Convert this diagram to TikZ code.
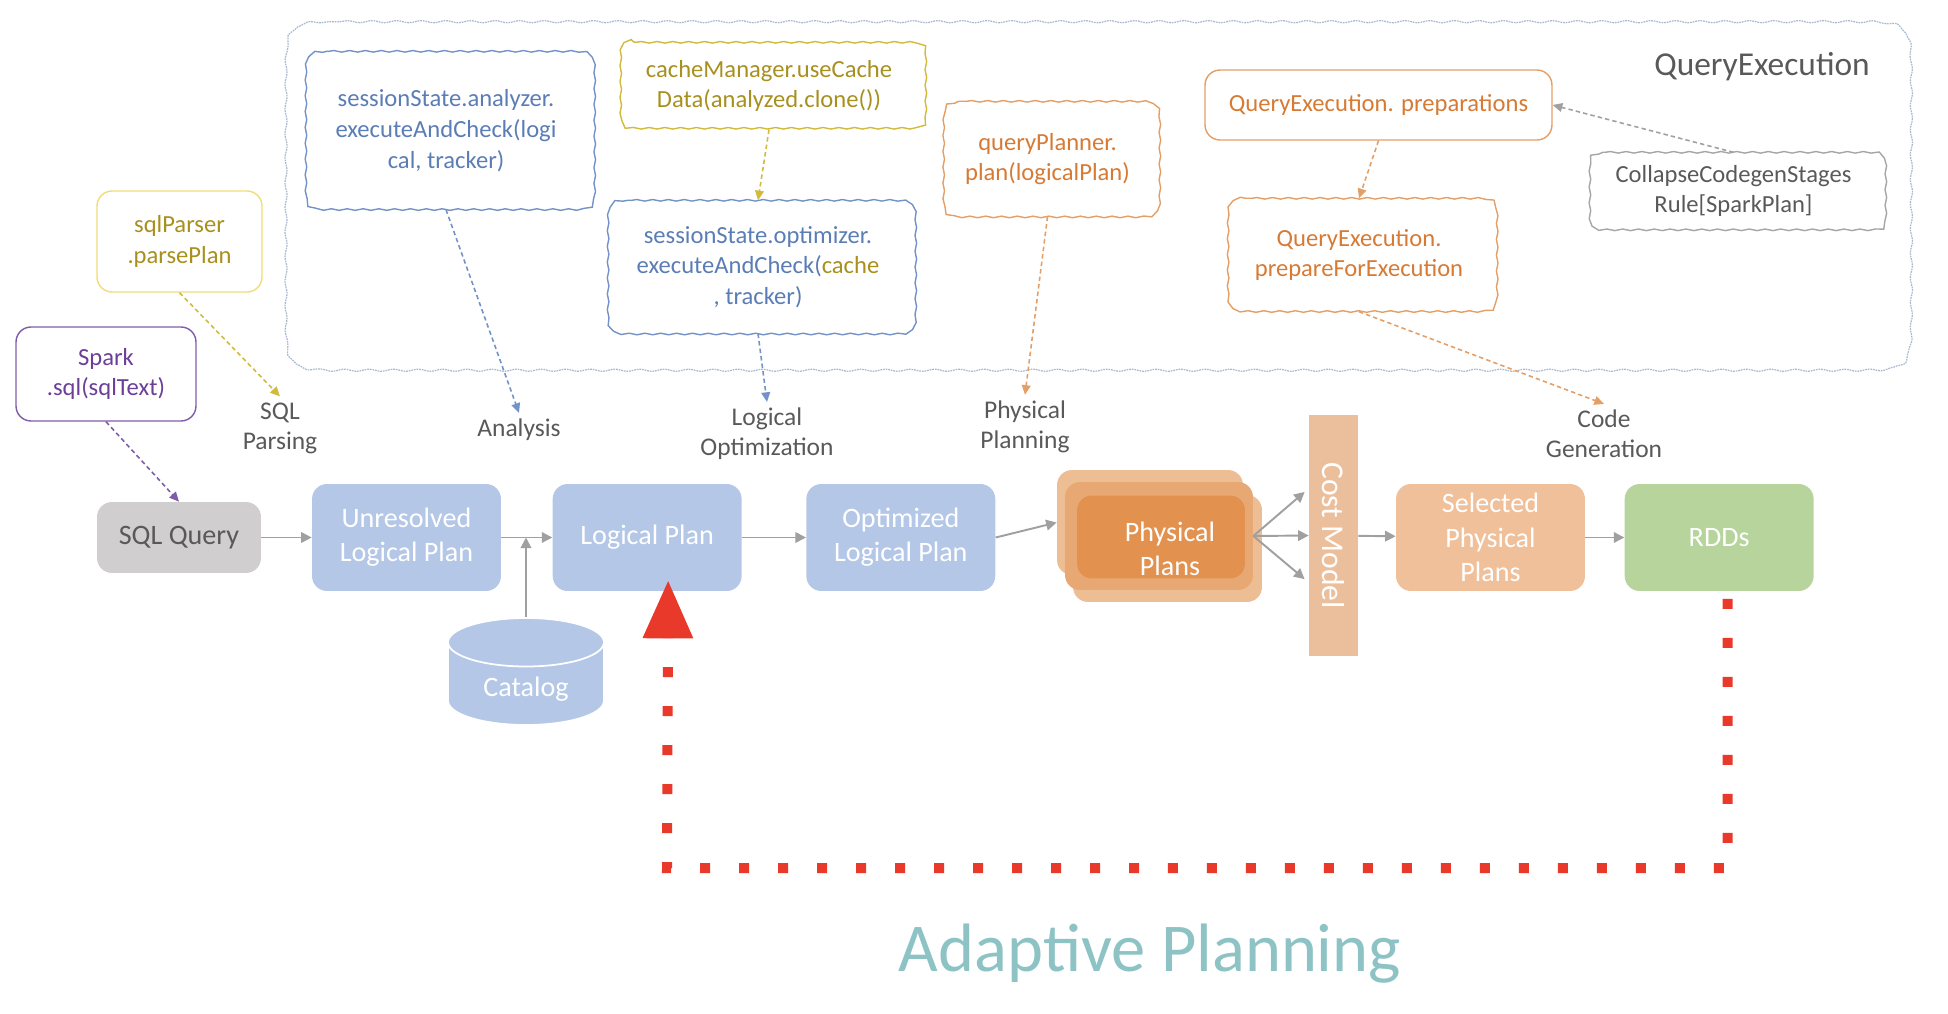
\documentclass[tikz,border=0pt]{standalone}
\usepackage{fontspec}
\setmainfont{Carlito}
\usepackage{tikz}
\usetikzlibrary{shapes.geometric, arrows, arrows.meta, decorations.pathmorphing}
\usetikzlibrary{positioning}

\definecolor{planblue}{HTML}{B4C7E7}
\definecolor{querygray}{HTML}{D0CECE}
\definecolor{textgray}{HTML}{595959}
\definecolor{flowgray}{HTML}{A0A0A0}
\definecolor{peach}{HTML}{EDBD94}
\definecolor{peachmid}{HTML}{E8A874}
\definecolor{darkorange}{HTML}{E3914F}
\definecolor{costpeach}{HTML}{ECBF9C}
\definecolor{selpeach}{HTML}{F0C09A}
\definecolor{rddgreen}{HTML}{B6D49C}
\definecolor{bluetext}{HTML}{5B7DB5}
\definecolor{blueline}{HTML}{7393C8}
\definecolor{olivetext}{HTML}{A8901E}
\definecolor{oliveline}{HTML}{D2BA3A}
\definecolor{yellowline}{HTML}{F0DD78}
\definecolor{orangetext}{HTML}{D67A34}
\definecolor{orangeline}{HTML}{E39F66}
\definecolor{purpletext}{HTML}{6B3F98}
\definecolor{purpleline}{HTML}{7F5CA9}
\definecolor{rulegray}{HTML}{A6A6A6}
\definecolor{boxline}{HTML}{A9B9CF}
\definecolor{adaptteal}{HTML}{8DC3C5}
\definecolor{loopred}{HTML}{E8392A}

\tikzstyle{arrow} = [line width=1.1pt, -{Triangle[length=6pt, width=6pt]}, flowgray]
\tikzstyle{hint} = [line width=0.9pt, -{Triangle[length=5.5pt, width=5pt]}, dash pattern=on 2.5pt off 1.8pt]
\tikzstyle{feedback} = [line width=0.2cm, loopred, dash pattern=on 0.2cm off 0.58cm, -{Triangle[length=1.16cm, width=0.96cm]}]
\tikzstyle{plan} = [rectangle, rounded corners=0.3cm, fill=planblue, text=white, minimum width=3.78cm, minimum height=2.14cm, align=center, font=\fontsize{16}{19.5}\selectfont]
\tikzstyle{card} = [rectangle, rounded corners=0.3cm, align=center, font=\fontsize{16}{19.5}\selectfont]
\tikzstyle{method} = [rectangle, rounded corners=0.3cm, line width=0.8pt, align=center, font=\fontsize{14}{17.5}\selectfont]
\tikzstyle{wavy} = [line width=0.8pt, decorate, decoration={snake, amplitude=0.45pt, segment length=9pt}]
\tikzstyle{stage} = [align=center, text=textgray, font=\fontsize{14.5}{17}\selectfont]

% hand-drawn frame round a node: node, colour, corner size
\newcommand{\wavyframe}[3]{\draw [wavy, #2] ([xshift=#3]#1.north west) -- ([xshift=-#3]#1.north east) .. controls (#1.north east) .. ([yshift=-#3]#1.north east) -- ([yshift=#3]#1.south east) .. controls (#1.south east) .. ([xshift=-#3]#1.south east) -- ([xshift=#3]#1.south west) .. controls (#1.south west) .. ([yshift=#3]#1.south west) -- ([yshift=-#3]#1.north west) .. controls (#1.north west) .. ([xshift=#3]#1.north west);}

\begin{document}
\begin{tikzpicture}[x=0.02cm, y=-0.02cm]
\useasboundingbox (0,0) rectangle (1948,1014);

    % QueryExecution container
    \node (QEBOX) at (1092.5,196) [minimum width=32.5cm, minimum height=6.96cm] {};
    \wavyframe{QEBOX}{boxline, line width=0.7pt, dash pattern=on 1pt off 0.5pt, decoration={segment length=14pt, amplitude=0.6pt}}{1.2cm}
    \node (QE) at (1762,67) [text=textgray, font=\fontsize{19}{22}\selectfont] {QueryExecution};

    % methods
    \node (ANALYZER) at (446,130.5) [method, text=bluetext, minimum width=5.76cm, minimum height=3.14cm] {sessionState.analyzer.\\executeAndCheck(logi\\cal, tracker)};
    \node (CACHE) at (769,86) [method, text=olivetext, minimum width=6.08cm, minimum height=1.72cm] {cacheManager.useCache\\Data(analyzed.clone())};
    \node (OPTIMIZER) at (758,267) [method, text=bluetext, minimum width=6.12cm, minimum height=2.64cm] {sessionState.optimizer.\\executeAndCheck({\color{olivetext}cache}\\, tracker)};
    \node (PLANNER) at (1047.5,159) [method, text=orangetext, minimum width=4.3cm, minimum height=2.28cm] {queryPlanner.\\plan(logicalPlan)};
    \node (PREPARATIONS) at (1378.5,105) [method, draw=orangeline, text=orangetext, minimum width=6.94cm, minimum height=1.4cm] {QueryExecution. preparations};
    \node (PREPARE) at (1359,255) [method, text=orangetext, minimum width=5.36cm, minimum height=2.24cm] {QueryExecution.\\prepareForExecution};
    \node (COLLAPSE) at (1733.5,191) [method, text=textgray, minimum width=5.9cm, minimum height=1.52cm] {CollapseCodegenStages\\Rule[SparkPlan]};
    \node (PARSER) at (179.5,241.5) [method, draw=yellowline, text=olivetext, minimum width=3.3cm, minimum height=2.02cm] {sqlParser\\.parsePlan};
    \node (SPARK) at (106,374) [method, draw=purpleline, text=purpletext, minimum width=3.6cm, minimum height=1.88cm] {Spark\\.sql(sqlText)};

    \wavyframe{ANALYZER}{blueline}{0.55cm}
    \wavyframe{CACHE}{oliveline}{0.4cm}
    \wavyframe{OPTIMIZER}{blueline}{0.55cm}
    \wavyframe{PLANNER}{orangeline}{0.55cm}
    \wavyframe{PREPARE}{orangeline}{0.55cm}
    \wavyframe{COLLAPSE}{rulegray}{0.4cm}

    % stages
    \node (SQLPARSING) at (280,428) [stage] {SQL\\Parsing};
    \node (ANALYSIS) at (519,430) [stage] {Analysis};
    \node (LOGOPT) at (767,434) [stage] {Logical\\Optimization};
    \node (PHYSPLAN) at (1025,427) [stage] {Physical\\Planning};
    \node (CODEGEN) at (1604,434) [stage] {Code\\Generation};

    % plans
    \node (SQLQUERY) at (179,537.5) [plan, fill=querygray, text=textgray, minimum width=3.28cm, minimum height=1.42cm] {SQL Query};
    \node (UNRESOLVED) at (406.5,537.5) [plan] {Unresolved\\Logical Plan};
    \node (LOGICAL) [plan, right=1.02cm of UNRESOLVED] {Logical Plan};
    \node (OPTIMIZED) [plan, right=1.28cm of LOGICAL] {Optimized\\Logical Plan};
    \node (CARDA) at (1150,522.5) [card, fill=peach, minimum width=3.72cm, minimum height=2.1cm] {};
    \node (CARDC) at (1167.5,548.5) [card, fill=peach, minimum width=3.78cm, minimum height=2.14cm] {};
    \node (CARDB) at (1159,536) [card, fill=peachmid, minimum width=3.76cm, minimum height=2.16cm] {};
    \node (PHYSICAL) at (1161,537) [card, fill=darkorange, minimum width=3.36cm, minimum height=1.66cm] {};
    \node (PHYSTEXT) at (1170,549) [card, text=white] {Physical\\Plans};
    \node (COSTMODEL) at (1333.5,535.5) [fill=costpeach, minimum width=0.98cm, minimum height=4.82cm] {};
    \node (COSTTEXT) at (COSTMODEL) [rotate=-90, text=white, font=\fontsize{18}{20}\selectfont] {Cost Model};
    \node (SELECTED) at (1490.5,537.5) [plan, fill=selpeach] {Selected\\Physical\\Plans};
    \node (RDDS) [plan, fill=rddgreen, right=0.78cm of SELECTED] {RDDs};
    \node (CATALOG) at (526,671.5) [cylinder, anchor=shape center, shape border rotate=90, aspect=0.5, draw=white, line width=1pt, cylinder uses custom fill, cylinder body fill=planblue, cylinder end fill=planblue, minimum width=3.12cm, minimum height=2.14cm, text=white, font=\fontsize{16}{19.5}\selectfont] {Catalog};

    \draw [arrow] (SQLQUERY) -- (UNRESOLVED);
    \draw [arrow] (UNRESOLVED) -- (LOGICAL);
    \draw [arrow] (CATALOG.north) -- (CATALOG.north |- UNRESOLVED.east);
    \draw [arrow] (LOGICAL) -- (OPTIMIZED);
    \draw [arrow] (OPTIMIZED.east) -- (CARDA.west);
    \draw [arrow, shorten >=3pt] (CARDB.east) -- ([yshift=0.94cm]COSTMODEL.west);
    \draw [arrow] (CARDB.east) -- (COSTMODEL.west);
    \draw [arrow, shorten >=3pt] (CARDB.east) -- ([yshift=-0.94cm]COSTMODEL.west);
    \draw [arrow] (COSTMODEL) -- (SELECTED);
    \draw [arrow] (SELECTED) -- (RDDS);

    \draw [hint, purpleline] (SPARK.south) -- (SQLQUERY.north);
    \draw [hint, oliveline] (PARSER.south) -- (SQLPARSING.north);
    \draw [hint, blueline] (ANALYZER.south) -- (ANALYSIS.north);
    \draw [hint, oliveline] (CACHE.south) -- (OPTIMIZER.north);
    \draw [hint, blueline] (OPTIMIZER.south) -- (LOGOPT.north);
    \draw [hint, orangeline] (PLANNER.south) -- (PHYSPLAN.north);
    \draw [hint, orangeline] (PREPARATIONS.south) -- (PREPARE.north);
    \draw [hint, flowgray] (COLLAPSE.north) -- (PREPARATIONS.east);
    \draw [hint, orangeline] (PREPARE.south) -- (CODEGEN.north);

    % adaptive loop
    \coordinate (LOOPCORNER) at (667,868);
    \draw [feedback] ([xshift=0.17cm, yshift=-0.15cm]RDDS.south) |- (LOOPCORNER) -- ([xshift=0.42cm, yshift=0.22cm]LOGICAL.south);
    \node (ADAPTIVE) at (1150,954) [text=adaptteal, font=\fontsize{39}{44}\selectfont] {Adaptive Planning};

\end{tikzpicture}
\end{document}
